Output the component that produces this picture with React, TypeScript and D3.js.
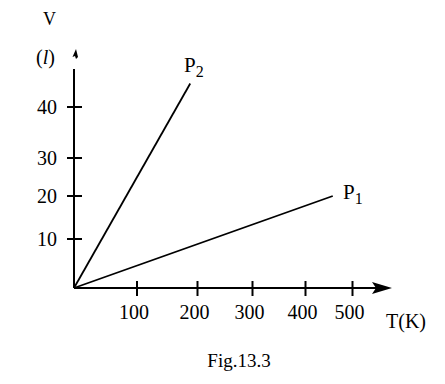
import React from "react";
import * as d3 from "d3";

const xTicks = [100, 200, 300, 400, 500];
const yTicks = [10, 20, 30, 40];
const seriesNames = ["P1", "P2"];
const seriesEndT = [458, 188];
const seriesEndV = [20, 44.6];
const xAxisLabel = "T(K)";
const yAxisLabel1 = "V";
const yAxisLabel2 = "l";
const caption = "Fig.13.3";

const W = 445;
const H = 384;

export default function App() {
  // piecewise scales follow the hand-drawn tick spacing of the figure
  const x = d3.scaleLinear().domain([0, ...xTicks]).range([74, 137, 197.5, 252.5, 305.5, 352.5]);
  const y = d3.scaleLinear().domain([0, ...yTicks]).range([288, 239, 196, 158, 107]);
  const x0 = x(0);
  const y0 = y(0);
  const line = d3.line<[number, number]>().x((d) => x(d[0])).y((d) => y(d[1]));
  const font = "Liberation Serif, DejaVu Serif, serif";

  return (
    <svg width={W} height={H} style={{ position: "absolute", left: 0, top: 0, background: "#fff" }}>
      <g stroke="#000" strokeWidth={2} fill="none">
        <line x1={x0} y1={y0} x2={x0} y2={69} />
        <line x1={x0} y1={y0} x2={376} y2={y0} />
        {xTicks.map((t) => (
          <line key={t} x1={x(t)} x2={x(t)} y1={y0 - 7} y2={y0 + 8} />
        ))}
        {yTicks.map((t) => (
          <line key={t} x1={x0 - 7} x2={x0 + 8} y1={y(t)} y2={y(t)} />
        ))}
      </g>
      <path d={`M392,${y0} L372,${y0 - 6} L376,${y0} L372,${y0 + 6} Z`} fill="#000" />
      <path d={`M76,49 L72.5,57 L75,56 L76,59 L78,57 Z`} fill="#000" />
      {seriesNames.map((n, i) => (
        <path key={n} d={line([[0, 0], [seriesEndT[i], seriesEndV[i]]]) || ""} stroke="#000" strokeWidth={1.8} fill="none" />
      ))}
      <g style={{ fontFamily: font }} fill="#000">
        {xTicks.map((t) => (
          <text key={t} x={x(t) - 3} y={319} fontSize={20} textAnchor="middle">{t}</text>
        ))}
        {yTicks.map((t) => (
          <text key={t} x={57} y={y(t) + 7} fontSize={20} textAnchor="end">{t}</text>
        ))}
        <text x={386} y={328} fontSize={20}>{xAxisLabel}</text>
        <text x={43} y={25} fontSize={18}>{yAxisLabel1}</text>
        <text x={36} y={64} fontSize={20}>(<tspan fontStyle="italic">{yAxisLabel2}</tspan>)</text>
        <text x={184} y={72} fontSize={21}>P<tspan fontSize={16} dy={5}>2</tspan></text>
        <text x={343} y={199} fontSize={21}>P<tspan fontSize={16} dy={5}>1</tspan></text>
        <text x={239} y={367} fontSize={19} textAnchor="middle">{caption}</text>
      </g>
    </svg>
  );
}
